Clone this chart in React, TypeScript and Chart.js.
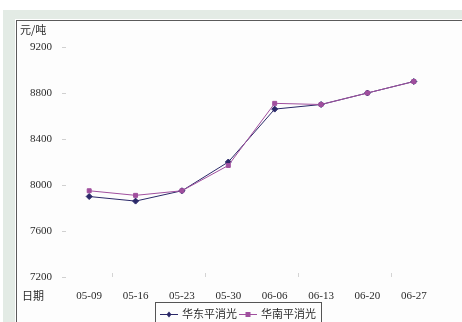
import React, { useEffect, useRef } from "react";
import { Chart, registerables } from "chart.js";

Chart.register(...registerables);

// Weekly price dates
const categories = ["05-09", "05-16", "05-23", "05-30", "06-06", "06-13", "06-20", "06-27"];
// 华东平消光 (元/吨)
const eastValues = [7900, 7860, 7950, 8200, 8660, 8700, 8800, 8900];
// 华南平消光 (元/吨)
const southValues = [7950, 7910, 7950, 8170, 8710, 8700, 8800, 8900];
const seriesNames = ["华东平消光", "华南平消光"];
const yTicks = [7200, 7600, 8000, 8400, 8800, 9200];
const unitLabel = "元/吨";
const axisLabel = "日期";

const EAST_COLOR = "#2a2868";
const SOUTH_COLOR = "#a04f9e";
const TEXT_COLOR = "#2a2a2a";
const SERIF = "'Liberation Serif', 'DejaVu Serif', serif";
const CJK = "'Noto Sans CJK SC', sans-serif";

// Draws the unit caption, the x caption, inward category ticks and a boxed legend
const decorPlugin = {
  id: "decor",
  afterDraw(chart: any) {
    const ctx = chart.ctx as CanvasRenderingContext2D;
    const area = chart.chartArea;
    const x = chart.scales.x;
    ctx.save();

    // captions
    ctx.fillStyle = TEXT_COLOR;
    ctx.font = `11px ${CJK}`;
    ctx.textBaseline = "middle";
    ctx.textAlign = "left";
    ctx.fillText(unitLabel, 3, 9);
    ctx.fillText(axisLabel, 5, 275);

    // faint inward tick marks between every other pair of categories
    ctx.strokeStyle = "#d4d4d4";
    ctx.lineWidth = 1;
    const n = categories.length;
    const step = x.getPixelForValue(1) - x.getPixelForValue(0);
    for (let i = 1; i <= n; i += 2) {
      const px = Math.round(x.getPixelForValue(i - 1) + step / 2) + 0.5;
      ctx.beginPath();
      ctx.moveTo(px, area.bottom - 4);
      ctx.lineTo(px, area.bottom);
      ctx.stroke();
    }

    // legend box
    const boxX = 138.5;
    const boxY = 281.5;
    const boxW = 166;
    const boxH = 30;
    ctx.strokeStyle = "#555";
    ctx.lineWidth = 1;
    ctx.strokeRect(boxX, boxY, boxW, boxH);

    ctx.font = `11px ${CJK}`;
    ctx.textBaseline = "middle";
    const cy = 293;
    let cx = boxX + 4.5;
    chart.data.datasets.forEach((ds: any) => {
      ctx.strokeStyle = ds.borderColor;
      ctx.lineWidth = 1;
      ctx.beginPath();
      ctx.moveTo(cx, cy + 0.5);
      ctx.lineTo(cx + 18, cy + 0.5);
      ctx.stroke();
      ctx.fillStyle = ds.pointBackgroundColor;
      const mx = cx + 9;
      if (ds.pointStyle === "rectRot") {
        ctx.beginPath();
        ctx.moveTo(mx, cy - 2.5);
        ctx.lineTo(mx + 2.5, cy + 0.5);
        ctx.lineTo(mx, cy + 3.5);
        ctx.lineTo(mx - 2.5, cy + 0.5);
        ctx.closePath();
        ctx.fill();
      } else {
        ctx.fillRect(mx - 2.5, cy - 2, 5, 5);
      }
      ctx.fillStyle = TEXT_COLOR;
      ctx.textAlign = "left";
      ctx.fillText(ds.label, cx + 22, cy);
      cx += 22 + ctx.measureText(ds.label).width + 2;
    });

    ctx.restore();
  },
};

export default function App() {
  const canvasRef = useRef<HTMLCanvasElement | null>(null);

  useEffect(() => {
    if (!canvasRef.current) return;
    const chart = new Chart(canvasRef.current, {
      type: "line",
      data: {
        labels: categories,
        datasets: [
          {
            label: seriesNames[0],
            data: eastValues,
            borderColor: EAST_COLOR,
            backgroundColor: EAST_COLOR,
            pointBackgroundColor: EAST_COLOR,
            pointBorderColor: EAST_COLOR,
            pointStyle: "rectRot",
            pointRadius: 3,
            borderWidth: 1,
            tension: 0,
            order: 2,
          },
          {
            label: seriesNames[1],
            data: southValues,
            borderColor: SOUTH_COLOR,
            backgroundColor: SOUTH_COLOR,
            pointBackgroundColor: SOUTH_COLOR,
            pointBorderColor: SOUTH_COLOR,
            pointStyle: "rect",
            pointRadius: 2.8,
            borderWidth: 1,
            tension: 0,
            order: 1,
          },
        ],
      },
      options: {
        responsive: false,
        animation: false,
        layout: { padding: { top: 26, right: 25, bottom: 0, left: 0 } },
        plugins: {
          legend: { display: false },
          tooltip: { enabled: false },
        },
        scales: {
          x: {
            type: "category",
            offset: true,
            border: { display: false },
            grid: { display: false, drawTicks: false },
            ticks: {
              color: TEXT_COLOR,
              font: { family: SERIF, size: 11 },
              padding: 13,
              maxRotation: 0,
              autoSkip: false,
            },
            afterFit(scale: any) {
              scale.height = 45;
            },
          },
          y: {
            min: 7200,
            max: 9200,
            border: { display: false },
            grid: {
              drawOnChartArea: false,
              drawTicks: true,
              tickLength: 4,
              color: "#d0d0d0",
            },
            afterBuildTicks(scale: any) {
              scale.ticks = yTicks.map((v) => ({ value: v }));
            },
            ticks: {
              color: TEXT_COLOR,
              font: { family: SERIF, size: 11 },
              padding: 10,
              callback: (v: any) => String(v),
            },
            afterFit(scale: any) {
              scale.width = 49;
            },
          },
        },
      },
      plugins: [decorPlugin],
    });
    return () => chart.destroy();
  }, []);

  return (
    <div style={{ position: "fixed", left: 0, top: 0, width: 462, height: 322, background: "#ffffff", overflow: "hidden" }}>
      {/* outer greenish frame */}
      <div style={{ position: "absolute", left: 3, top: 10, width: 459, height: 9, background: "#e3ebe5" }} />
      <div style={{ position: "absolute", left: 3, top: 10, width: 12, height: 312, background: "#e3ebe5" }} />
      {/* panel edges */}
      <div style={{ position: "absolute", left: 16, top: 20, width: 446, height: 1, background: "#5a5a5a" }} />
      <div style={{ position: "absolute", left: 16, top: 20, width: 1, height: 302, background: "#5a5a5a" }} />
      <canvas
        ref={canvasRef}
        width={445}
        height={301}
        style={{ position: "absolute", left: 17, top: 21, width: 445, height: 301, background: "#fdfdfd" }}
      />
    </div>
  );
}
